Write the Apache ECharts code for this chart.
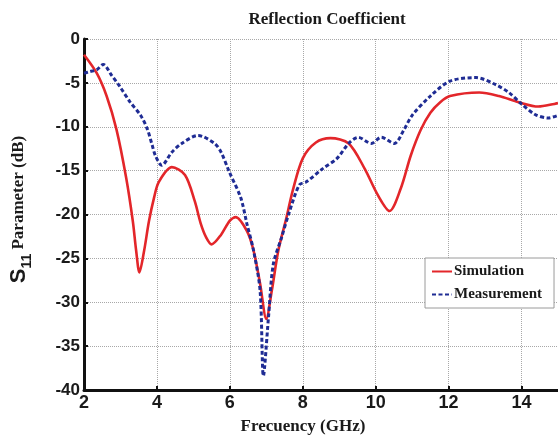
<!DOCTYPE html>
<html>
<head>
<meta charset="utf-8">
<script src="https://cdn.jsdelivr.net/npm/echarts@6/dist/echarts.min.js"></script>
<style>
  html, body { margin: 0; padding: 0; background: #fff; }
  #chart { width: 558px; height: 440px; }
</style>
</head>
<body>
<div id="chart"></div>
<script>
// S11 reflection coefficient: simulated vs. measured
const simFreq = [2.0, 2.35, 2.62, 2.89, 3.16, 3.34, 3.43, 3.52, 3.65, 3.78, 3.92, 4.05, 4.41, 4.77, 5.04, 5.2, 5.35, 5.5, 5.76, 6.0, 6.16, 6.47, 6.65, 6.83, 7.0, 7.15, 7.33, 7.55, 7.73, 8.0, 8.36, 8.76, 9.26, 9.7, 10.06, 10.38, 10.69, 10.96, 11.23, 11.5, 11.77, 12.04, 12.84, 13.38, 13.92, 14.46, 14.9, 15.0];
const simDb   = [-1.8, -3.9, -6.5, -10.3, -15.9, -20.8, -24.1, -26.6, -24.1, -20.8, -18.1, -16.3, -14.6, -15.5, -18.5, -21.0, -22.6, -23.4, -22.3, -20.7, -20.3, -21.9, -24.1, -27.9, -31.9, -28.7, -24.1, -20.4, -17.2, -13.6, -11.8, -11.3, -11.9, -14.8, -17.8, -19.6, -17.0, -13.3, -10.4, -8.4, -7.2, -6.5, -6.1, -6.5, -7.2, -7.7, -7.4, -7.3];

const measFreq = [2.0, 2.17, 2.35, 2.53, 2.75, 2.98, 3.25, 3.56, 3.74, 3.87, 3.96, 4.13, 4.41, 4.68, 5.13, 5.58, 5.76, 5.98, 6.3, 6.47, 6.65, 6.83, 6.92, 7.06, 7.19, 7.42, 7.64, 7.91, 8.09, 8.54, 8.94, 9.26, 9.52, 9.88, 10.15, 10.51, 10.78, 11.0, 11.5, 12.04, 12.75, 13.29, 13.65, 14.0, 14.37, 14.73, 15.0];
const measDb   = [-3.9, -3.7, -3.5, -2.9, -4.1, -5.4, -7.1, -8.75, -10.3, -12.1, -13.3, -14.4, -12.9, -11.9, -11.0, -11.9, -12.9, -15.1, -18.1, -21.1, -24.1, -28.7, -38.4, -31.7, -25.7, -22.6, -19.6, -16.6, -16.3, -14.8, -13.6, -11.9, -11.2, -11.9, -11.2, -11.9, -10.3, -8.7, -6.5, -4.8, -4.4, -5.2, -6.1, -7.4, -8.6, -9.0, -8.7];

const xTicks = { min: 2, max: 15, step: 2 };
const yTicks = { min: -40, max: 0, step: 5 };

const pairs = (xs, ys) => xs.map((x, i) => [x, ys[i]]);

const serif = "'Liberation Serif', 'DejaVu Serif', serif";
const sans = "'Liberation Sans', Arial, sans-serif";

const chart = echarts.init(document.getElementById('chart'), null, { renderer: 'canvas' });

const gridLine = { show: true, lineStyle: { color: '#a8a8a8', width: 1, type: [1, 1] } };

chart.setOption({
  animation: false,
  backgroundColor: '#ffffff',
  title: {
    text: 'Reflection Coefficient',
    left: 322,
    textAlign: 'center',
    top: 6,
    textStyle: { fontFamily: serif, fontWeight: 'bold', fontSize: 17, color: '#1a1a1a' }
  },
  grid: { left: 77, right: -2, top: 39, bottom: 46, containLabel: false },
  legend: {
    orient: 'vertical',
    left: 425,
    top: 258,
    backgroundColor: '#ffffff',
    borderColor: '#9a9a9a',
    borderWidth: 1,
    padding: [6, 12, 6, 6],
    itemGap: 8,
    itemWidth: 20,
    itemHeight: 10,
    itemStyle: { opacity: 0 },
    textStyle: { fontFamily: serif, fontWeight: 'bold', fontSize: 15, color: '#1a1a1a', padding: [0, 0, 0, -3] },
    data: ['Simulation', 'Measurement']
  },
  xAxis: {
    type: 'value',
    min: xTicks.min,
    max: xTicks.max,
    interval: xTicks.step,
    name: 'Frecuency (GHz)',
    nameLocation: 'middle',
    nameGap: 28,
    nameTextStyle: { fontFamily: serif, fontWeight: 'bold', fontSize: 17, color: '#1a1a1a', padding: [0, 36, 0, 0] },
    axisLine: { show: true, onZero: false, lineStyle: { color: '#111', width: 3 } },
    axisTick: { show: true, inside: true, length: 4, lineStyle: { color: '#111', width: 2 } },
    axisLabel: { fontFamily: sans, fontWeight: 'bold', fontSize: 18, color: '#1a1a1a', margin: 4, showMaxLabel: false },
    splitLine: gridLine
  },
  yAxis: {
    type: 'value',
    min: yTicks.min,
    max: yTicks.max,
    interval: yTicks.step,
    name: '{s|S}{sub|11}{p| Parameter (dB)}',
    nameLocation: 'middle',
    nameGap: 50,
    nameTextStyle: {
      padding: [0, 0, 0, 10],
      rich: {
        s: { fontFamily: sans, fontWeight: 'bold', fontSize: 22, color: '#1a1a1a', lineHeight: 30, verticalAlign: 'middle' },
        sub: { fontFamily: sans, fontWeight: 'bold', fontSize: 14, color: '#1a1a1a', lineHeight: 30, verticalAlign: 'bottom' },
        p: { fontFamily: serif, fontWeight: 'bold', fontSize: 17, color: '#1a1a1a', lineHeight: 30, verticalAlign: 'middle' }
      }
    },
    axisLine: { show: true, onZero: false, lineStyle: { color: '#111', width: 3 } },
    axisTick: { show: true, inside: true, length: 4, lineStyle: { color: '#111', width: 2 } },
    axisLabel: { fontFamily: sans, fontWeight: 'bold', fontSize: 17, color: '#1a1a1a', margin: 4 },
    splitLine: gridLine
  },
  series: [
    {
      name: 'Simulation',
      type: 'line',
      data: pairs(simFreq, simDb),
      smooth: 0.3,
      symbol: 'none',
      itemStyle: { color: '#e3262a' },
      lineStyle: { color: '#e3262a', width: 2.6 },
      z: 3
    },
    {
      name: 'Measurement',
      type: 'line',
      data: pairs(measFreq, measDb),
      smooth: 0.3,
      symbol: 'none',
      itemStyle: { color: '#1f2c94' },
      lineStyle: { color: '#1f2c94', width: 3, type: [4, 2.5] },
      z: 4
    }
  ]
});
</script>
</body>
</html>
